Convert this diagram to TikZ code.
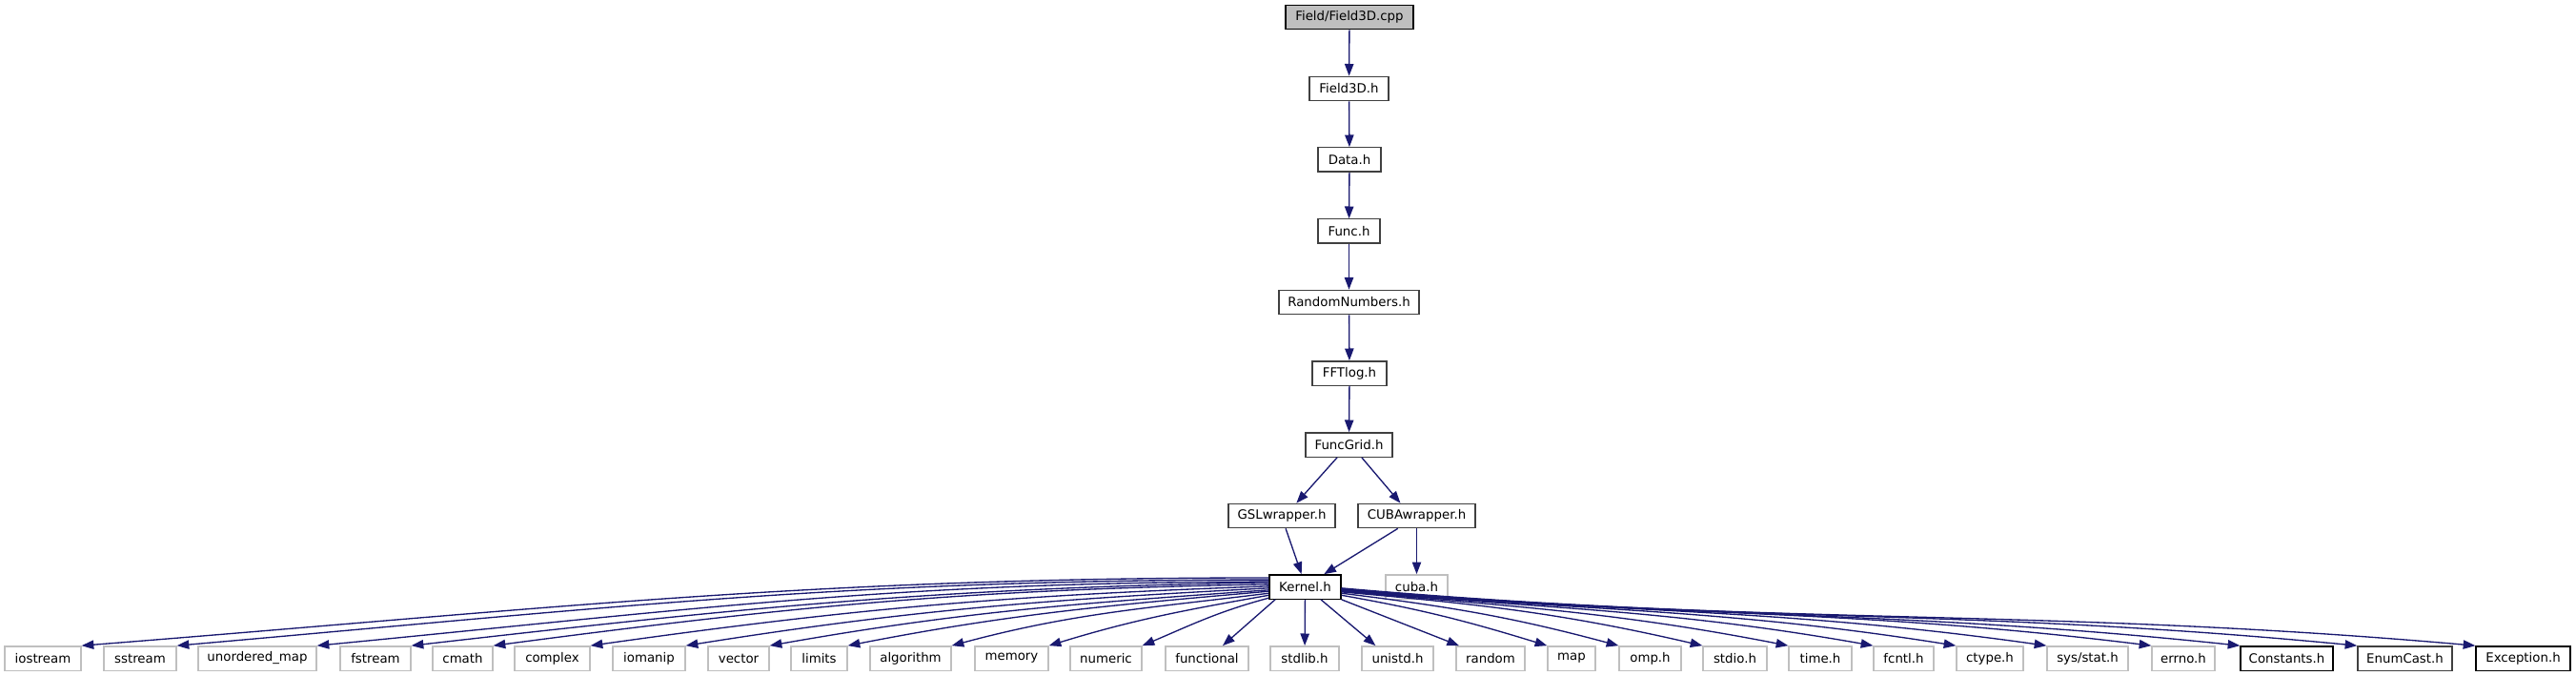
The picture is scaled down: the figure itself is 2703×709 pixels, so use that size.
\documentclass[tikz,border=0pt]{standalone}
\usepackage{fontspec}
\setmainfont{DejaVu Sans}
\usetikzlibrary{arrows.meta}
\definecolor{edgeblue}{HTML}{191970}
\definecolor{extgray}{HTML}{BFBFBF}
\definecolor{docgray}{HTML}{404040}
\begin{document}
\begin{tikzpicture}[x=0.75pt,y=0.75pt,
    >={Triangle[length=9.5pt,width=7pt]},
    hdr/.style={draw=docgray,line width=1pt,fill=white,inner sep=0pt,
      minimum height=19pt,minimum width={#1*0.75pt},
      font=\fontsize{10}{12}\selectfont},
    sys/.style={hdr=#1,draw=extgray},
    dep/.style={->,draw=edgeblue,line width=1pt}]
    \useasboundingbox (0,0) rectangle (2703,-709);
    % include chain
    \node[hdr=134,fill=extgray,draw=black] (src) at (1416,-18) {Field/Field3D.cpp};
    \node[hdr=83] (field3d) at (1415.5,-93) {Field3D.h};
    \node[hdr=66] (data) at (1416,-167.5) {Data.h};
    \node[hdr=65] (func) at (1415.5,-242.5) {Func.h};
    \node[hdr=147] (rng) at (1415.5,-317) {RandomNumbers.h};
    \node[hdr=78] (fftlog) at (1416,-391.5) {FFTlog.h};
    \node[hdr=91] (funcgrid) at (1415.5,-466.5) {FuncGrid.h};
    \node[hdr=112] (gslw) at (1345,-541) {GSLwrapper.h};
    \node[hdr=123] (cubaw) at (1486.5,-541) {CUBAwrapper.h};
    \node[hdr=75,draw=black] (kernel) at (1369.5,-615.5) {Kernel.h};
    \node[sys=65] (cuba) at (1486.5,-615.5) {cuba.h};
    % headers included by Kernel.h
    \node[sys=80] (iostream) at (45,-690.5) {iostream};
    \node[sys=76] (sstream) at (147,-690.5) {sstream};
    \node[sys=124] (umap) at (270,-690.5) {unordered\_map};
    \node[sys=74] (fstream) at (394,-690.5) {fstream};
    \node[sys=63] (cmath) at (485.5,-690.5) {cmath};
    \node[sys=79] (complex) at (579.5,-690.5) {complex};
    \node[sys=76] (iomanip) at (681,-690.5) {iomanip};
    \node[sys=64] (vector) at (775,-690.5) {vector};
    \node[sys=59] (limits) at (859.5,-690.5) {limits};
    \node[sys=85] (algorithm) at (955.5,-690.5) {algorithm};
    \node[sys=77] (memory) at (1061.5,-690.5) {memory};
    \node[sys=75] (numeric) at (1160.5,-690.5) {numeric};
    \node[sys=87] (functional) at (1266.5,-690.5) {functional};
    \node[sys=72] (stdlib) at (1369,-690.5) {stdlib.h};
    \node[sys=75] (unistd) at (1466.5,-690.5) {unistd.h};
    \node[sys=72] (random) at (1564,-690.5) {random};
    \node[sys=50] (map) at (1649,-690.5) {map};
    \node[sys=65] (omp) at (1731.5,-690.5) {omp.h};
    \node[sys=67] (stdio) at (1820.5,-690.5) {stdio.h};
    \node[sys=66] (time) at (1910,-690.5) {time.h};
    \node[sys=63] (fcntl) at (1997.5,-690.5) {fcntl.h};
    \node[sys=70] (ctype) at (2088,-690.5) {ctype.h};
    \node[sys=85] (sysstat) at (2190.5,-690.5) {sys/stat.h};
    \node[sys=66] (errno) at (2291,-690.5) {errno.h};
    \node[hdr=97,draw=black] (constants) at (2399.5,-690.5) {Constants.h};
    \node[hdr=99] (enumcast) at (2523.5,-690.5) {EnumCast.h};
    \node[hdr=99,draw=black] (exception) at (2647.5,-690.5) {Exception.h};
    % chain edges
    \draw[dep] (src) -- (field3d);
    \draw[dep] (field3d) -- (data);
    \draw[dep] (data) -- (func);
    \draw[dep] (func) -- (rng);
    \draw[dep] (rng) -- (fftlog);
    \draw[dep] (fftlog) -- (funcgrid);
    \draw[dep] (funcgrid.227) -- (gslw.41);
    \draw[dep] (funcgrid.-45) -- (cubaw.142);
    \draw[dep] (gslw.-73) -- (kernel.106);
    \draw[dep] (cubaw.214) -- (kernel.34);
    \draw[dep] (cubaw.south -| cuba) -- (cuba);
    % fan out to the left
    \foreach \t/\a/\o/\i in {iostream/166/180/4.5, sstream/169/180/5,
        umap/172/180/5.5, fstream/173/181/6.5, cmath/176/181/7.5,
        complex/179/182/8, iomanip/182/183/9, vector/185/184/10,
        limits/187/185/11, algorithm/190/187/15, memory/193/190/17,
        numeric/197/195/23}{%
      \draw[dep] (kernel.\a) to[out=\o,in=\i] (\t.north east);}
    \draw[dep] (kernel.203) -- (functional.39);
    % straight down and to the right
    \draw[dep] (kernel) -- (stdlib);
    \draw[dep] (kernel.-39) -- (unistd.150);
    \draw[dep] (kernel.south east) -- (random.158);
    \foreach \t/\a/\o/\i in {map/-13/-10/163, omp/-10/-7/165,
        stdio/-8/-5/167, time/-7/-5/169, fcntl/-6/-5/170,
        ctype/-5/-5/171, sysstat/-4/-5/172, errno/-4/-5/173,
        constants/-3/-5/174, enumcast/-3/-5/174.5, exception/-2/-5/175}{%
      \draw[dep] (kernel.\a) to[out=\o,in=\i] (\t.north west);}
  \end{tikzpicture}
\end{document}
